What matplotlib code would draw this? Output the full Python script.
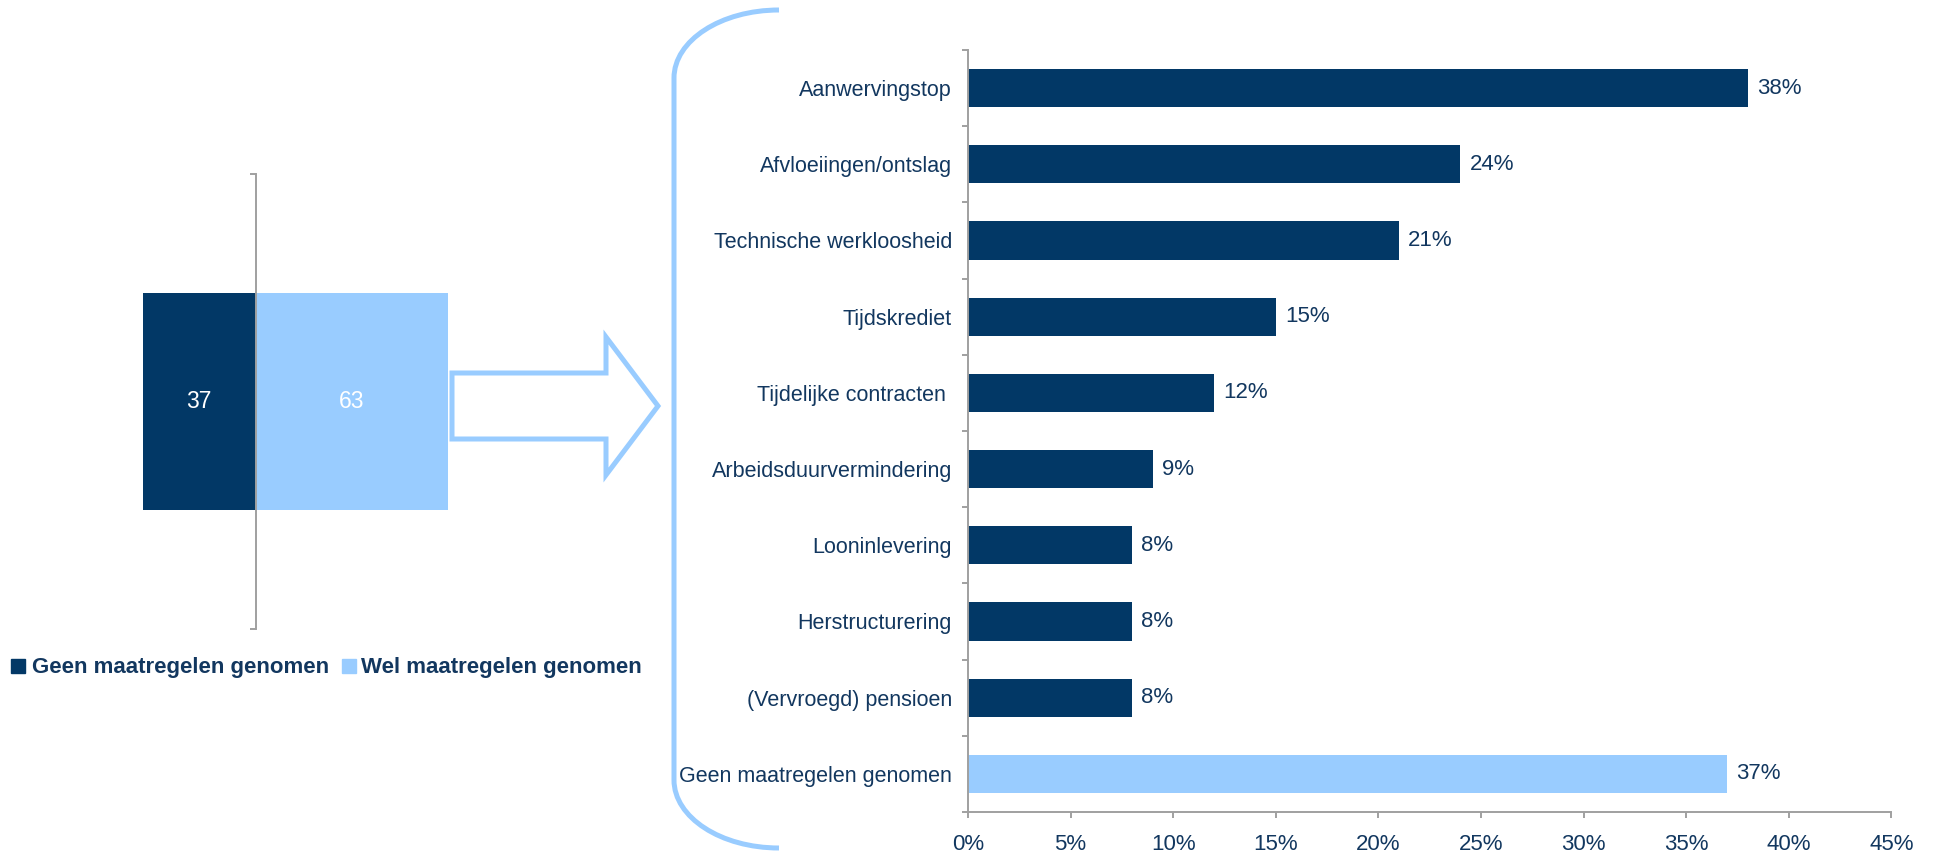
import matplotlib
matplotlib.use("Agg")
import matplotlib.pyplot as plt
from matplotlib.path import Path
from matplotlib.patches import PathPatch, Rectangle

plt.rcParams['font.family'] = ['Liberation Sans', 'DejaVu Sans']

# kleuren
navy = '#023866'
light = '#99CCFF'
txt = '#12375F'
grey = '#A0A0A0'

# linker grafiek: wel / geen maatregelen
split_labels = ['Geen maatregelen genomen', 'Wel maatregelen genomen']
split_values = [37, 63]

# rechter grafiek: genomen maatregelen (van boven naar onder)
measures = ['Aanwervingstop', 'Afvloeiingen/ontslag', 'Technische werkloosheid',
            'Tijdskrediet', 'Tijdelijke contracten ', 'Arbeidsduurvermindering',
            'Looninlevering', 'Herstructurering', '(Vervroegd) pensioen',
            'Geen maatregelen genomen']
measure_values = [38, 24, 21, 15, 12, 9, 8, 8, 8, 37]
measure_colors = [navy] * 9 + [light]
x_ticks = [0, 5, 10, 15, 20, 25, 30, 35, 40, 45]

W, H = 1934, 856
fig = plt.figure(figsize=(W / 100, H / 100), dpi=100)

# overlay voor pijl, accolade en legenda (pixelcoordinaten)
ov = fig.add_axes([0, 0, 1, 1])
ov.set_xlim(0, W)
ov.set_ylim(H, 0)
ov.axis('off')

# --- linker gestapelde balk ---
axl = fig.add_axes([142.7 / W, 1 - 629 / H, 305.3 / W, 455 / H])
axl.barh(0, -split_values[0], height=0.479, color=navy)
axl.barh(0, split_values[1], height=0.479, color=light)
axl.set_xlim(-split_values[0], split_values[1])
axl.set_ylim(-0.5, 0.5)
for s in ['top', 'right', 'bottom']:
    axl.spines[s].set_visible(False)
axl.spines['left'].set_position(('data', 0))
axl.spines['left'].set_color(grey)
axl.spines['left'].set_linewidth(1.4)
axl.set_xticks([])
axl.set_yticks([-0.5, 0.5])
axl.set_yticklabels([])
axl.tick_params(axis='y', length=4.5, width=1.4, color=grey)
axl.text(-split_values[0] / 2, 0, str(split_values[0]), color='white',
         fontsize=16.5, ha='center', va='center')
axl.text(split_values[1] / 2, 0, str(split_values[1]), color='white',
         fontsize=16.5, ha='center', va='center')
ov.text(282, 193, '%', color=txt, fontsize=20, ha='center', va='center')

# legenda
leg_x = [(10.5, 31.6), (342, 361)]
for (sx, tx), lab, col in zip(leg_x, split_labels, [navy, light]):
    ov.add_patch(Rectangle((sx, 659), 14, 14, color=col))
    ov.text(tx, 673, lab, color=txt, fontsize=16, fontweight='bold',
            ha='left', va='baseline')

# --- pijl ---
cy = 406
arrow = [(452, cy - 33), (606, cy - 33), (606, cy - 69), (658, cy),
         (606, cy + 69), (606, cy + 33), (452, cy + 33), (452, cy - 33)]
ov.add_patch(PathPatch(Path(arrow, closed=True), facecolor='white',
                       edgecolor=light, lw=3.6, joinstyle='miter'))

# --- accolade ---
k = 0.552
verts = [(779, 10), (779 - k * 105, 10), (674, 78 - k * 68), (674, 78),
         (674, 780),
         (674, 780 + k * 68), (779 - k * 105, 848), (779, 848)]
codes = [Path.MOVETO, Path.CURVE4, Path.CURVE4, Path.CURVE4, Path.LINETO,
         Path.CURVE4, Path.CURVE4, Path.CURVE4]
ov.add_patch(PathPatch(Path(verts, codes), facecolor='none', edgecolor=light,
                       lw=3.6, capstyle='butt'))

# --- rechter staafgrafiek ---
axr = fig.add_axes([968 / W, 1 - 812 / H, 923.4 / W, 762 / H])
ypos = list(range(len(measures)))
axr.barh(ypos, measure_values, height=0.5, color=measure_colors)
axr.set_ylim(len(measures) - 0.5, -0.5)
axr.set_xlim(0, 45)
for s in ['top', 'right']:
    axr.spines[s].set_visible(False)
for s in ['left', 'bottom']:
    axr.spines[s].set_color(grey)
    axr.spines[s].set_linewidth(1.4)
axr.set_yticks(ypos)
axr.set_yticklabels(measures, color=txt, fontsize=15.5)
axr.set_yticks([y - 0.5 for y in range(len(measures) + 1)], minor=True)
axr.tick_params(axis='y', which='major', length=0, pad=11.5)
axr.tick_params(axis='y', which='minor', length=4.5, width=1.4, color=grey)
axr.set_xticks(x_ticks)
axr.set_xticklabels([f'{t}%' for t in x_ticks], color=txt, fontsize=16)
axr.tick_params(axis='x', length=4.5, width=1.4, color=grey, pad=11.5)

for y, v in zip(ypos, measure_values):
    axr.text(v + 0.45, y, f'{v}%', color=txt, fontsize=16,
             ha='left', va='center')

fig.savefig('out.png', dpi=100)
